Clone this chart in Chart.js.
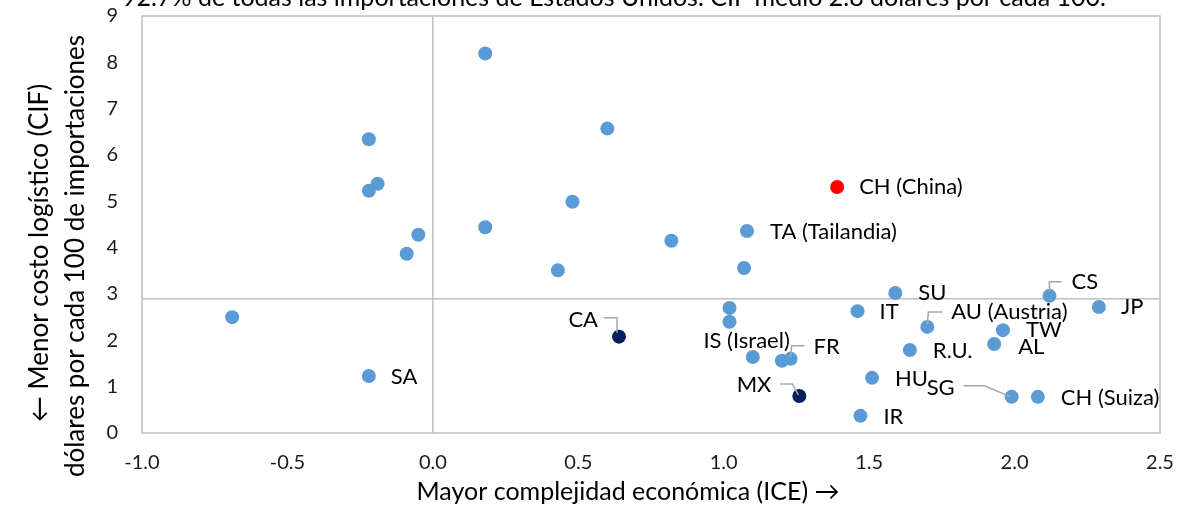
<!DOCTYPE html>
<html>
<head>
<meta charset="utf-8">
<script src="https://cdn.jsdelivr.net/npm/chart.js@4/dist/chart.umd.min.js"></script>
<style>
  html, body { margin: 0; padding: 0; background: #fff; }
  canvas { display: block; }
</style>
</head>
<body>
<canvas id="chart" width="1181" height="508"></canvas>
<script>
// datos: ICE (x) y CIF por cada 100 dólares (y)
const names = ['', '', '', '', '', '', '', '', '', '', '', 'SA', 'CA',
  'CH (China)', '', 'TA (Tailandia)', '', '', '', 'IT', 'SU', 'AU (Austria)', 'TW', 'AL', 'CS', 'JP',
  'R.U.', 'IS (Israel)', '', 'FR', 'HU', 'MX', 'SG', 'CH (Suiza)', 'IR'];
const ice = [0.18, 0.60, -0.22, -0.19, -0.22, 0.48, 0.18, -0.05, -0.09, 0.43, -0.69, -0.22, 0.64,
  1.39, 0.82, 1.08, 1.07, 1.02, 1.02, 1.46, 1.59, 1.70, 1.96, 1.93, 2.12, 2.29,
  1.64, 1.10, 1.20, 1.23, 1.51, 1.26, 1.99, 2.08, 1.47];
const cif = [8.19, 6.57, 6.34, 5.38, 5.23, 4.99, 4.44, 4.28, 3.87, 3.51, 2.50, 1.23, 2.08,
  5.31, 4.15, 4.36, 3.56, 2.70, 2.40, 2.63, 3.02, 2.29, 2.22, 1.92, 2.96, 2.72,
  1.79, 1.64, 1.56, 1.60, 1.19, 0.80, 0.78, 0.78, 0.37];
const group = ['otro', 'otro', 'otro', 'otro', 'otro', 'otro', 'otro', 'otro', 'otro', 'otro', 'otro', 'otro', 'tmec',
  'china', 'otro', 'otro', 'otro', 'otro', 'otro', 'otro', 'otro', 'otro', 'otro', 'otro', 'otro', 'otro',
  'otro', 'otro', 'otro', 'otro', 'otro', 'tmec', 'otro', 'otro', 'otro'];
const meanCIF = 2.9;
const meanICE = 0;
const titleText = '92.7% de todas las importaciones de Estados Unidos. CIF medio 2.8 dólares por cada 100.';
const xTitle = 'Mayor complejidad económica (ICE) →';
const yTitle = ['← Menor costo logístico (CIF)', 'dólares por cada 100 de importaciones'];

// posición de las etiquetas respecto al punto (px)
const labelPos = {
  'SA': { dx: 22, dy: 1 },
  'CA': { dx: -21, dy: -17, align: 'right', leader: [[-15, -19], [-2, -19], [-2, -4]] },
  'CH (China)': { dx: 22, dy: 0 },
  'TA (Tailandia)': { dx: 23, dy: 1 },
  'IT': { dx: 22, dy: 1 },
  'SU': { dx: 23, dy: 0 },
  'AU (Austria)': { dx: 24, dy: -15, leader: [[0, -3], [1, -15], [15, -15]] },
  'TW': { dx: 23, dy: 0 },
  'AL': { dx: 24, dy: 3 },
  'CS': { dx: 22, dy: -14, leader: [[0, -4], [0, -14], [12, -14]] },
  'JP': { dx: 22, dy: 0 },
  'R.U.': { dx: 23, dy: 1 },
  'IS (Israel)': { dx: 37, dy: -16, align: 'right' },
  'FR': { dx: 23, dy: -12, leader: [[0, -2], [1, -13], [14, -13]] },
  'HU': { dx: 23, dy: 1 },
  'MX': { dx: -28, dy: -11, align: 'right', leader: [[-19, -12], [-7, -12], [-1, -1]] },
  'SG': { dx: -57, dy: -9, align: 'right', leader: [[-48, -11], [-27, -11], [-1, 0]] },
  'CH (Suiza)': { dx: 23, dy: 1 },
  'IR': { dx: 23, dy: 1 }
};

const colors = { otro: '#5b9bd5', tmec: '#002060', china: '#ff0000' };
const FONT = 'Lato, "Noto Sans", sans-serif';

function buildSet(g) {
  const pts = [], lbl = [];
  ice.forEach((v, i) => {
    if (group[i] === g) { pts.push({ x: v, y: cif[i] }); lbl.push(names[i]); }
  });
  return {
    data: pts, names: lbl,
    backgroundColor: colors[g], borderWidth: 0,
    pointRadius: 7, pointHoverRadius: 7
  };
}

const decor = {
  id: 'decor',
  beforeDatasetsDraw(chart) {
    const { ctx, chartArea: a, scales } = chart;
    ctx.save();
    ctx.strokeStyle = '#bfbfbf';
    ctx.lineWidth = 1.5;
    ctx.strokeRect(a.left, a.top, a.right - a.left, a.bottom - a.top);
    const x0 = scales.x.getPixelForValue(meanICE);
    const y0 = scales.y.getPixelForValue(meanCIF);
    ctx.beginPath();
    ctx.moveTo(x0, a.top); ctx.lineTo(x0, a.bottom);
    ctx.moveTo(a.left, y0); ctx.lineTo(a.right, y0);
    ctx.stroke();
    ctx.restore();
  },
  afterDatasetsDraw(chart) {
    const { ctx } = chart;
    ctx.save();
    ctx.font = '22px ' + FONT;
    ctx.fillStyle = '#000';
    ctx.textBaseline = 'middle';
    chart.data.datasets.forEach((ds, di) => {
      chart.getDatasetMeta(di).data.forEach((el, i) => {
        const n = ds.names[i];
        const p = labelPos[n];
        if (!n || !p) return;
        if (p.leader) {
          ctx.strokeStyle = '#a6a6a6';
          ctx.lineWidth = 1.5;
          ctx.beginPath();
          p.leader.forEach(([lx, ly], k) => {
            if (k === 0) ctx.moveTo(el.x + lx, el.y + ly); else ctx.lineTo(el.x + lx, el.y + ly);
          });
          ctx.stroke();
        }
        ctx.textAlign = p.align || 'left';
        ctx.fillText(n, el.x + p.dx, el.y + p.dy);
      });
    });
    // título recortado arriba
    ctx.font = '25px ' + FONT;
    ctx.textAlign = 'center';
    ctx.textBaseline = 'alphabetic';
    ctx.fillText(titleText, 614, 6);
    // títulos de ejes
    ctx.textBaseline = 'middle';
    ctx.fillText(xTitle, 628, 492);
    ctx.font = '26px ' + FONT;
    ctx.rotate(-Math.PI / 2);
    ctx.fillText(yTitle[0], -253, 40);
    ctx.fillText(yTitle[1], -256, 76);
    ctx.restore();
  }
};

new Chart(document.getElementById('chart'), {
  type: 'scatter',
  data: { datasets: [buildSet('otro'), buildSet('tmec'), buildSet('china')] },
  options: {
    responsive: false,
    animation: false,
    devicePixelRatio: 1,
    layout: { padding: { left: 0, top: 16, right: 21, bottom: 0 } },
    plugins: { legend: { display: false }, tooltip: { enabled: false } },
    scales: {
      x: {
        min: -1, max: 2.5,
        grid: { display: false, drawTicks: false },
        border: { display: false },
        ticks: {
          stepSize: 0.5, padding: 18, color: '#1a1a1a',
          font: { family: FONT, size: 20 },
          callback: v => v.toFixed(1)
        },
        afterFit(s) { s.height = 75; s.paddingLeft = 0; s.paddingRight = 0; }
      },
      y: {
        min: 0, max: 9,
        grid: { display: false, drawTicks: false },
        border: { display: false },
        ticks: {
          stepSize: 1, padding: 24, color: '#1a1a1a',
          font: { family: FONT, size: 20 }
        },
        afterFit(s) { s.width = 142; s.paddingTop = 0; s.paddingBottom = 0; }
      }
    }
  },
  plugins: [decor]
});
</script>
</body>
</html>
